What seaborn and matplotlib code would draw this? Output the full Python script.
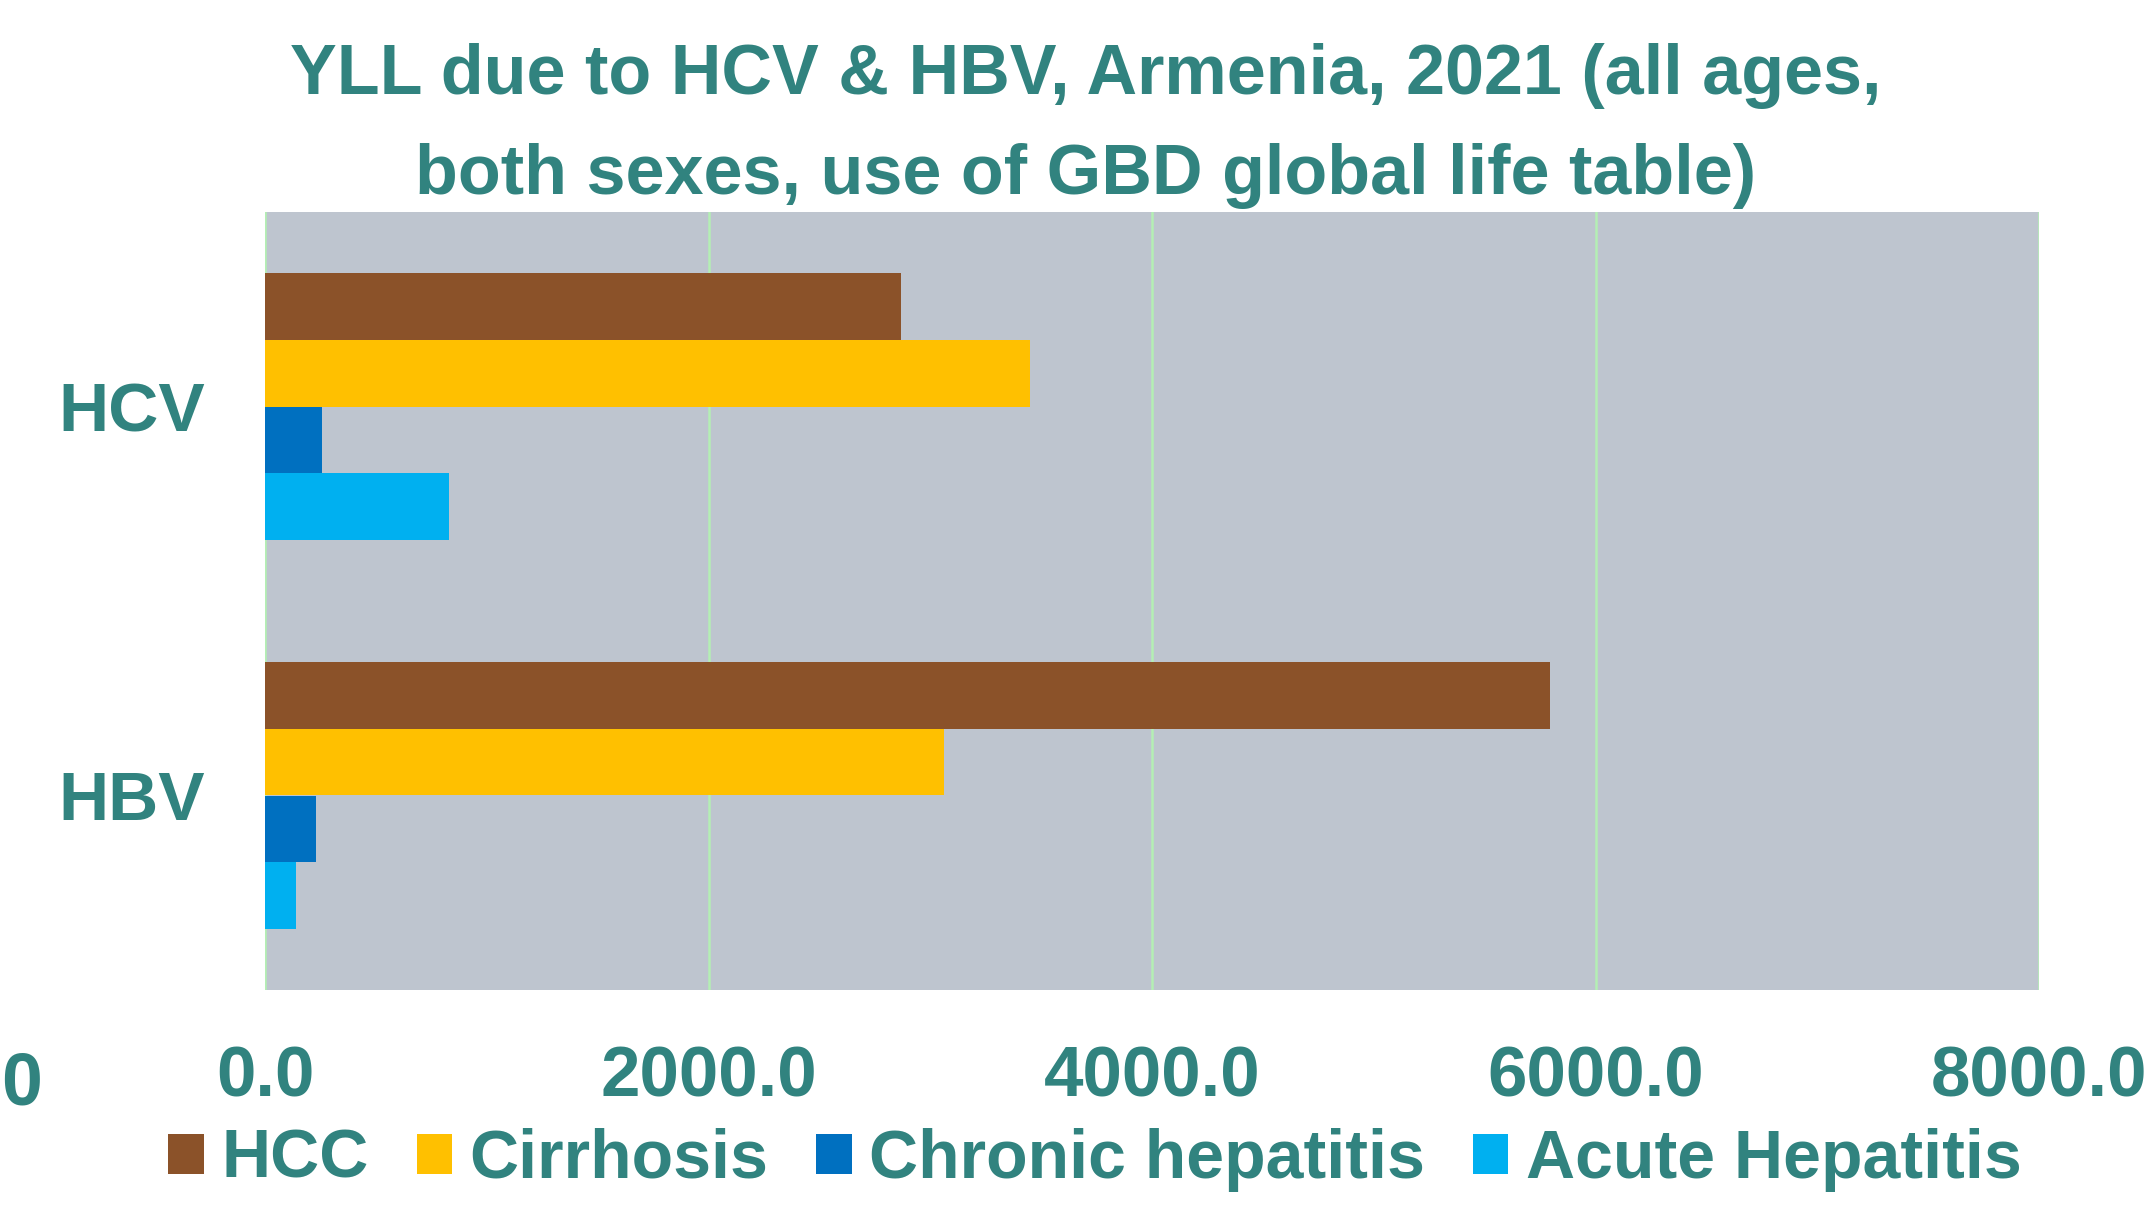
import matplotlib
matplotlib.use("Agg")
import matplotlib.pyplot as plt
import seaborn as sns
import pandas as pd

viruses = ["HCV", "HBV"]
causes = ["HCC", "Cirrhosis", "Chronic hepatitis", "Acute Hepatitis"]
hcv_values = [2867, 3449, 258, 830]
hbv_values = [5795, 3060, 230, 140]
x_ticks = [0, 2000, 4000, 6000, 8000]
tick_labels = ["0.0", "2000.0", "4000.0", "6000.0", "8000.0"]
colors = ["#8B5229", "#FFC000", "#0070C0", "#00B0F0"]

rows = []
for v, vals in zip(viruses, [hcv_values, hbv_values]):
    for c, val in zip(causes, vals):
        rows.append({"virus": v, "cause": c, "yll": val})
df = pd.DataFrame(rows)

sns.set_theme(style="white")
fam = ["Liberation Sans", "DejaVu Sans"]
plt.rcParams["font.family"] = fam

teal = "#31837F"
fig = plt.figure(figsize=(21.48, 12.16), dpi=100)
ax = fig.add_axes([265/2148, 1-990/1216, (2039-265)/2148, (990-212)/1216])
ax.set_facecolor("#BEC5CF")

sns.barplot(data=df, y="virus", x="yll", hue="cause", order=viruses, hue_order=causes,
            palette=colors, saturation=1, width=0.686, orient="h", ax=ax, linewidth=0)

ax.set_xlim(0, 8000)
ax.set_xticks(x_ticks)
ax.set_xticklabels(tick_labels)
for sp in ax.spines.values():
    sp.set_visible(False)
ax.grid(False)
for xv in x_ticks:
    ax.axvline(xv, color="#B4EFB4", lw=1.8, zorder=0.5)
ax.set_xlabel("")
ax.set_ylabel("")
ax.tick_params(axis="x", length=0, pad=40, labelsize=51, labelcolor=teal)
ax.tick_params(axis="y", length=0, pad=43, labelsize=50, labelcolor=teal)
for lab in ax.get_xticklabels() + ax.get_yticklabels():
    lab.set_fontweight("bold")

fig.text(1086/2148, 1-126/1216, "YLL due to HCV & HBV, Armenia, 2021 (all ages,\nboth sexes, use of GBD global life table)",
         ha="center", va="center", fontsize=50.5, fontweight="bold", color=teal,
         linespacing=1.66)

fig.text(22/2148, 1-1085/1216, "0", ha="center", va="center", fontsize=53,
         fontweight="bold", color=teal)

handles, labels = ax.get_legend_handles_labels()
ax.get_legend().remove()
leg = fig.legend(handles, labels, loc="center", bbox_to_anchor=(1095/2148, 1-1160/1216),
                 ncol=4, frameon=False, handlelength=0.52, handleheight=0.52,
                 handletextpad=0.26, columnspacing=0.7,
                 prop={"size": 49, "weight": "bold"})
for t in leg.get_texts():
    t.set_color(teal)

fig.savefig("out.png", dpi=100)
